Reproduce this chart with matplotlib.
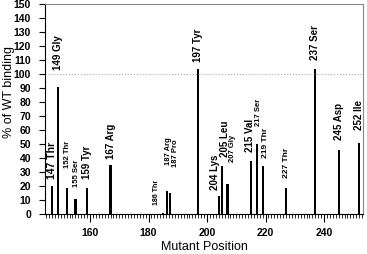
import matplotlib
matplotlib.use("Agg")
import matplotlib.pyplot as plt
from matplotlib.ticker import MultipleLocator

# mutant positions, binding (% of WT) and labels
positions = [147, 149, 152, 155, 159, 167, 185, 186.3, 187.3, 197,
             204, 205, 207, 215, 217, 219, 227, 237, 245, 252]
binding = [20, 91, 18.5, 11, 18.5, 35, 1, 16.5, 15, 103.5,
           13, 34.5, 21.5, 38, 50, 34, 18.5, 103.5, 46, 51]
labels = ["147 Thr", "149 Gly", "152 Thr", "155 Ser", "159 Tyr", "167 Arg",
          "186 Thr", "187 Arg", "187 Pro", "197 Tyr", "204 Lys", "205 Leu",
          "207 Gly", "215 Val", "217 Ser", "219 Thr", "227 Thr", "237 Ser",
          "245 Asp", "252 Ile"]

# label placement (x centre, bottom of the rotated text) and font size
label_x = [147, 149, 152.2, 155.2, 159, 167, 182.8, 186.8, 189.1, 197,
           202.7, 206.1, 208.6, 214.7, 217.5, 220, 227, 237, 245, 252]
label_y = [25, 103, 33, 19, 25, 39, 6.5, 35, 33.5, 108.5,
           17, 41, 37, 44, 63, 40, 26, 110, 53, 60]
label_size = [7.5, 7, 5.5, 5.5, 7, 7, 5, 5.5, 5.5, 7,
              7, 7, 5.5, 7, 5.5, 6, 6, 7, 7, 7]

plt.rcParams['font.family'] = ['Liberation Sans', 'DejaVu Sans']

fig = plt.figure(figsize=(3.67, 2.54), dpi=100)
ax = fig.add_axes([0.1226, 0.1575, 0.8664, 0.8268])

ax.bar(positions, binding, width=0.75, color='black')
ax.axhline(100, color='#aaaaaa', linestyle=':', linewidth=0.8)

for x, y, t, fs in zip(label_x, label_y, labels, label_size):
    ax.text(x, y, t, rotation=90, ha='center', va='bottom',
            fontsize=fs, fontweight='bold')

ax.set_xlim(144.6, 253.3)
ax.set_ylim(0, 150)
ax.xaxis.set_major_locator(MultipleLocator(20))
ax.xaxis.set_minor_locator(MultipleLocator(1))
ax.yaxis.set_major_locator(MultipleLocator(10))
ax.tick_params(axis='x', which='major', length=6, width=0.8, labelsize=7.5, pad=4)
ax.tick_params(axis='x', which='minor', length=3, width=0.6)
ax.tick_params(axis='y', length=4, width=0.8, labelsize=7.5, pad=6)
for lbl in ax.get_xticklabels() + ax.get_yticklabels():
    lbl.set_fontweight('bold')

for s in ['top', 'right']:
    ax.spines[s].set_color('#888888')
ax.spines['left'].set_linewidth(0.8)
ax.spines['bottom'].set_linewidth(0.8)

ax.set_xlabel("Mutant Position", fontsize=9, labelpad=2)
ax.set_ylabel("% of WT binding", fontsize=9, labelpad=4)
ax.yaxis.set_label_coords(-0.095, 0.58)

fig.savefig("out.png", dpi=100)
